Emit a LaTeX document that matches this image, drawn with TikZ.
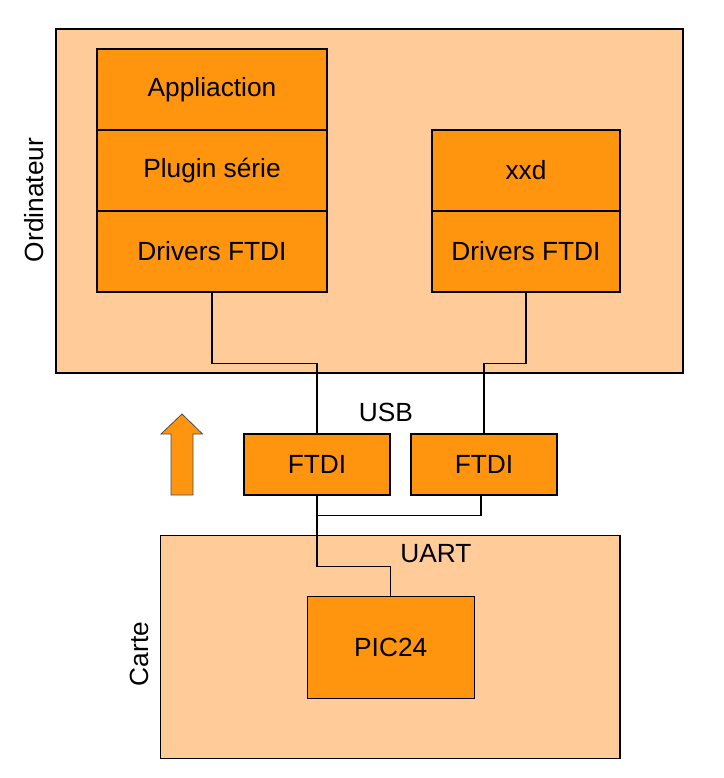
\documentclass[tikz,border=0pt]{standalone}
\usepackage{fontspec}
\setmainfont{Liberation Sans}
\definecolor{lightor}{HTML}{FFCC99}
\definecolor{darkor}{HTML}{FF950E}
\begin{document}
\begin{tikzpicture}[x=1pt,y=-1pt,
  every node/.style={font=\fontsize{26.3}{30}\selectfont},
  panel/.style={draw=black,line width=1.1pt,fill=lightor,rectangle,inner sep=0pt},
  block/.style={draw=black,line width=1.1pt,fill=darkor,rectangle,inner sep=0pt},
  wire/.style={draw=black,line width=1.1pt},
  lbl/.style={inner sep=0pt}]
\useasboundingbox (0,0) rectangle (723,778);
% panels
\node[panel,minimum width=627pt,minimum height=344pt] (ord) at (369.5,201) {};
\node[panel,minimum width=459.5pt,minimum height=222.7pt] (carte) at (390.25,646.7) {};
% left stack
\node[block,minimum width=230pt,minimum height=81pt] (app) at (212,89.5) {Appliaction};
\node[block,minimum width=230pt,minimum height=81pt] (plug) at (212,170.5) {Plugin série};
\node[block,minimum width=230pt,minimum height=81pt] (drvL) at (212,251.5) {Drivers FTDI};
% right stack
\node[block,minimum width=188pt,minimum height=81pt] (xxd) at (526,170.5) {xxd};
\node[block,minimum width=188pt,minimum height=81pt] (drvR) at (526,251.5) {Drivers FTDI};
% FTDI chips
\node[block,minimum width=146pt,minimum height=61pt] (ftdiL) at (317,464.5) {FTDI};
\node[block,minimum width=146pt,minimum height=61pt] (ftdiR) at (484,464.5) {FTDI};
% PIC
\node[block,minimum width=167pt,minimum height=102pt] (pic) at (390.7,647.3) {PIC24};
% labels
\node[lbl,rotate=90] (lord) at (34,200) {Ordinateur};
\node[lbl,rotate=90] (lcarte) at (139,654) {Carte};
\node[lbl] (usb) at (386,412) {USB};
\node[lbl] (uart) at (436,554) {UART};
% wires
\draw[wire] (drvL.south) -- ++(0,71) -| (ftdiL.north);
\draw[wire] (drvR.south) -- ++(0,71) -| (ftdiR.north);
\draw[wire] (ftdiL.south) -- ++(0,71) -| (pic.north);
\coordinate (rj) at ([xshift=-3pt]ftdiR.south);
\coordinate (jn) at (315.5,515.5);
\draw[wire] (rj) |- (jn);
% arrow
\draw[line width=0.8pt,draw=black!70,fill=darkor]
  (171,495) -- (193,495) -- (193,434) -- (202.5,434) -- (182,414) -- (161,434) -- (171,434) -- cycle;
\end{tikzpicture}
\end{document}
